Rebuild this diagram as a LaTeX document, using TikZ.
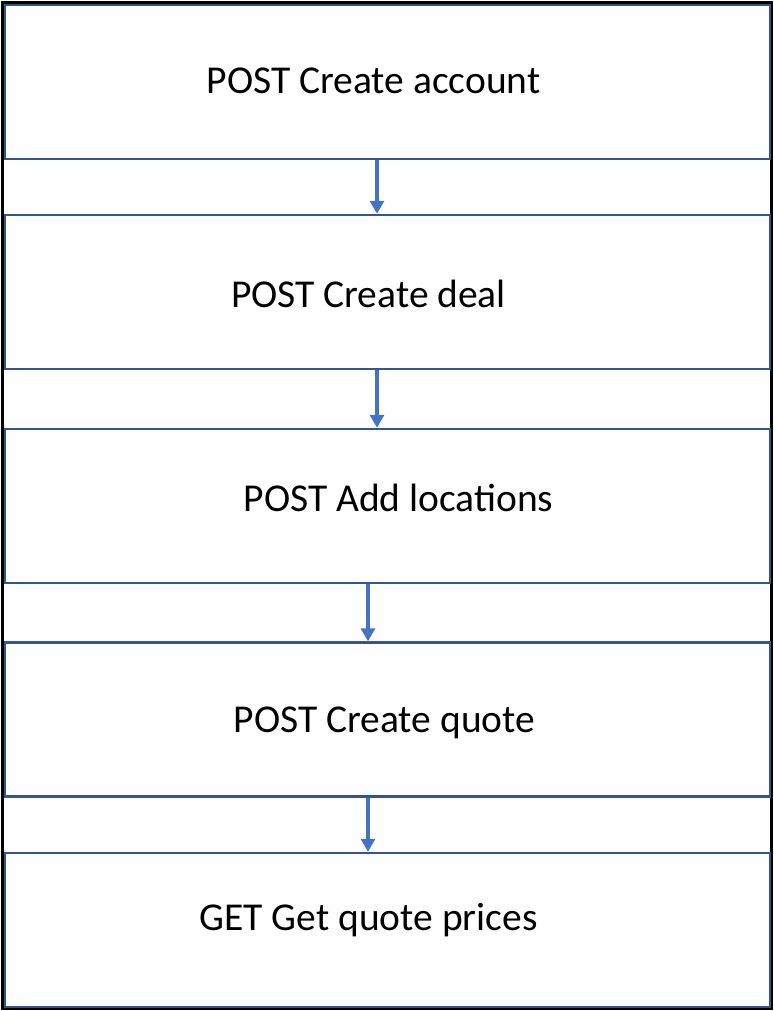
\documentclass[tikz,border=0pt]{standalone}
\usepackage{fontspec}
\setmainfont{Carlito}
\usetikzlibrary{arrows.meta}
\usetikzlibrary{positioning}
\definecolor{boxblue}{HTML}{34558F}
\definecolor{arrowblue}{HTML}{4472C4}

\begin{document}
\begin{tikzpicture}[x=1pt,y=-1pt,
    api box/.style={rectangle,draw=boxblue,line width=2.5pt,minimum width=765pt,minimum height=154pt,inner sep=0pt},
    call text/.style={font=\fontsize{39.5}{46}\selectfont,anchor=base,inner sep=0pt},
    flow/.style={-{Triangle[length=13pt,width=14pt]},draw=arrowblue,line width=3.5pt}]
   \useasboundingbox (0,0) rectangle (773,1011);
   \draw[line width=2.5pt] (2.5,2.5) rectangle (771.5,1009);
   \begin{scope}
      \node[api box] (acct) at (387.5,82) {};
      \node[api box] (deal) at (387.5,292) {};
      \node[api box] (locs) at (387.5,506) {};
      \node[api box] (quote) at (387.5,719.5) {};
      \node[api box] (prices) at (387.5,930) {};
      \node[call text] (acct-t) at (373.5,94) {POST Create account};
      \node[call text] (deal-t) at (368.5,307) {POST Create deal};
      \node[call text] (locs-t) at (398.5,511) {POST Add locations};
      \node[call text] (quote-t) at (384.5,732) {POST Create quote};
      \node[call text] (prices-t) at (368.5,930) {GET Get quote prices};
       \path ([xshift=-10.5pt]acct.south) edge[flow] ([xshift=-10.5pt]deal.north);
       \path ([xshift=-10.5pt]deal.south) edge[flow] ([xshift=-10.5pt]locs.north);
       \path ([xshift=-19.5pt]locs.south) edge[flow] ([xshift=-19.5pt]quote.north);
       \path ([xshift=-19.5pt]quote.south) edge[flow] ([xshift=-19.5pt]prices.north);
    \end{scope}
  \end{tikzpicture}
\end{document}
